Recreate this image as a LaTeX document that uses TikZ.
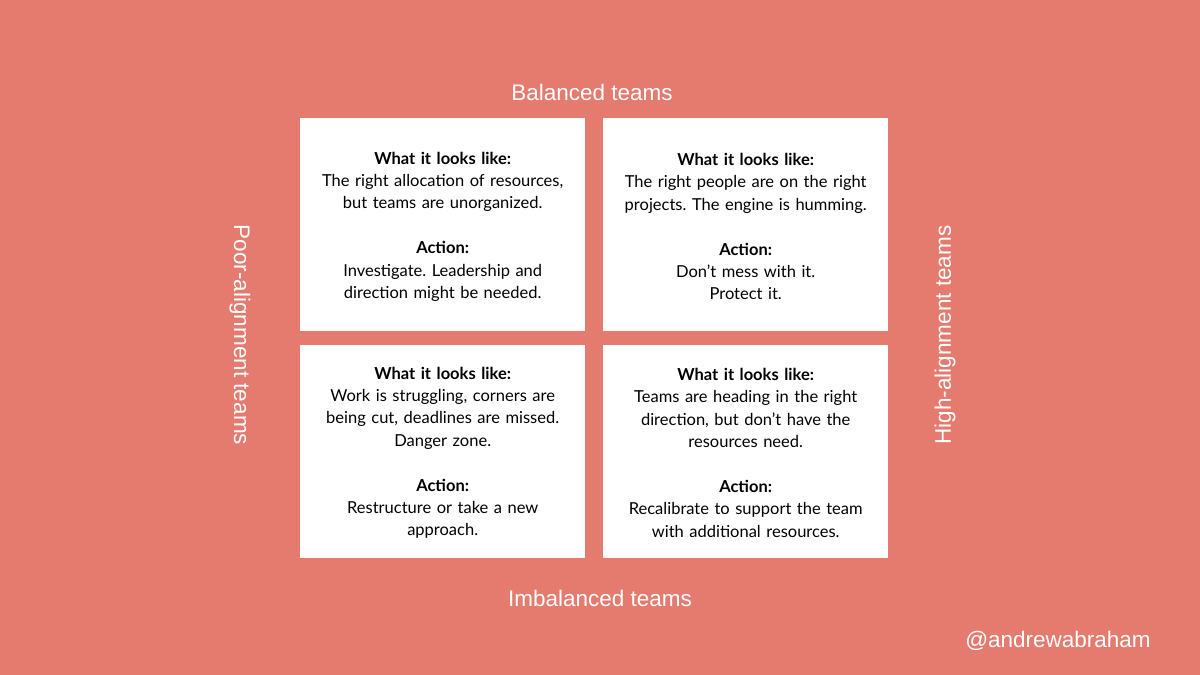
\documentclass[tikz,border=0pt]{standalone}
\usepackage{fontspec}
\setmainfont{Lato}
\newfontfamily\arial{Liberation Sans}
\definecolor{bg}{HTML}{E57A6F}
\frenchspacing
\begin{document}
\begin{tikzpicture}[x=1pt,y=-1pt,
  cell/.style={fill=white,draw=none,minimum width=285pt,minimum height=213pt,anchor=north west},
  txt/.style={align=center,text width=270pt,font=\frenchspacing\fontsize{16.5}{22.4}\selectfont},
  axis/.style={text=white,font=\arial\fontsize{22.5}{25}\selectfont}]
\fill[bg] (0,0) rectangle (1200,675);
\useasboundingbox (0,0) rectangle (1200,675);
\node[cell] (tl) at (300,118) {};
\node[cell] (tr) at (603,118) {};
\node[cell] (bl) at (300,345) {};
\node[cell] (br) at (603,345) {};
\node[txt] (ttl) at ([yshift=-2pt]tl.center) {\textbf{What it looks like:}\\The right allocation of resources,\\but teams are unorganized.\\[22.4pt]\textbf{Action:}\\Investigate. Leadership and\\direction might be needed.};
\node[txt] (ttr) at ([yshift=-2pt]tr.center) {\textbf{What it looks like:}\\The right people are on the right\\projects. The engine is humming.\\[22.4pt]\textbf{Action:}\\Don’t mess with it.\\Protect it.};
\node[txt] (tbl) at ([yshift=-1pt]bl.center) {\textbf{What it looks like:}\\Work is struggling, corners are\\being cut, deadlines are missed.\\Danger zone.\\[22.4pt]\textbf{Action:}\\Restructure or take a new\\approach.};
\node[txt] (tbr) at ([yshift=-1pt]br.center) {\textbf{What it looks like:}\\Teams are heading in the right\\direction, but don’t have the\\resources need.\\[22.4pt]\textbf{Action:}\\Recalibrate to support the team\\with additional resources.};
\node[axis] (top) at (592,92) {Balanced teams};
\node[axis] (bot) at (600,598) {Imbalanced teams};
\node[axis,rotate=-90] (left) at (240,335) {Poor-alignment teams};
\node[axis,rotate=90] (right) at (945,335) {High-alignment teams};
\node[axis] (sig) at (1058,641) {@andrewabraham};
\end{tikzpicture}
\end{document}
